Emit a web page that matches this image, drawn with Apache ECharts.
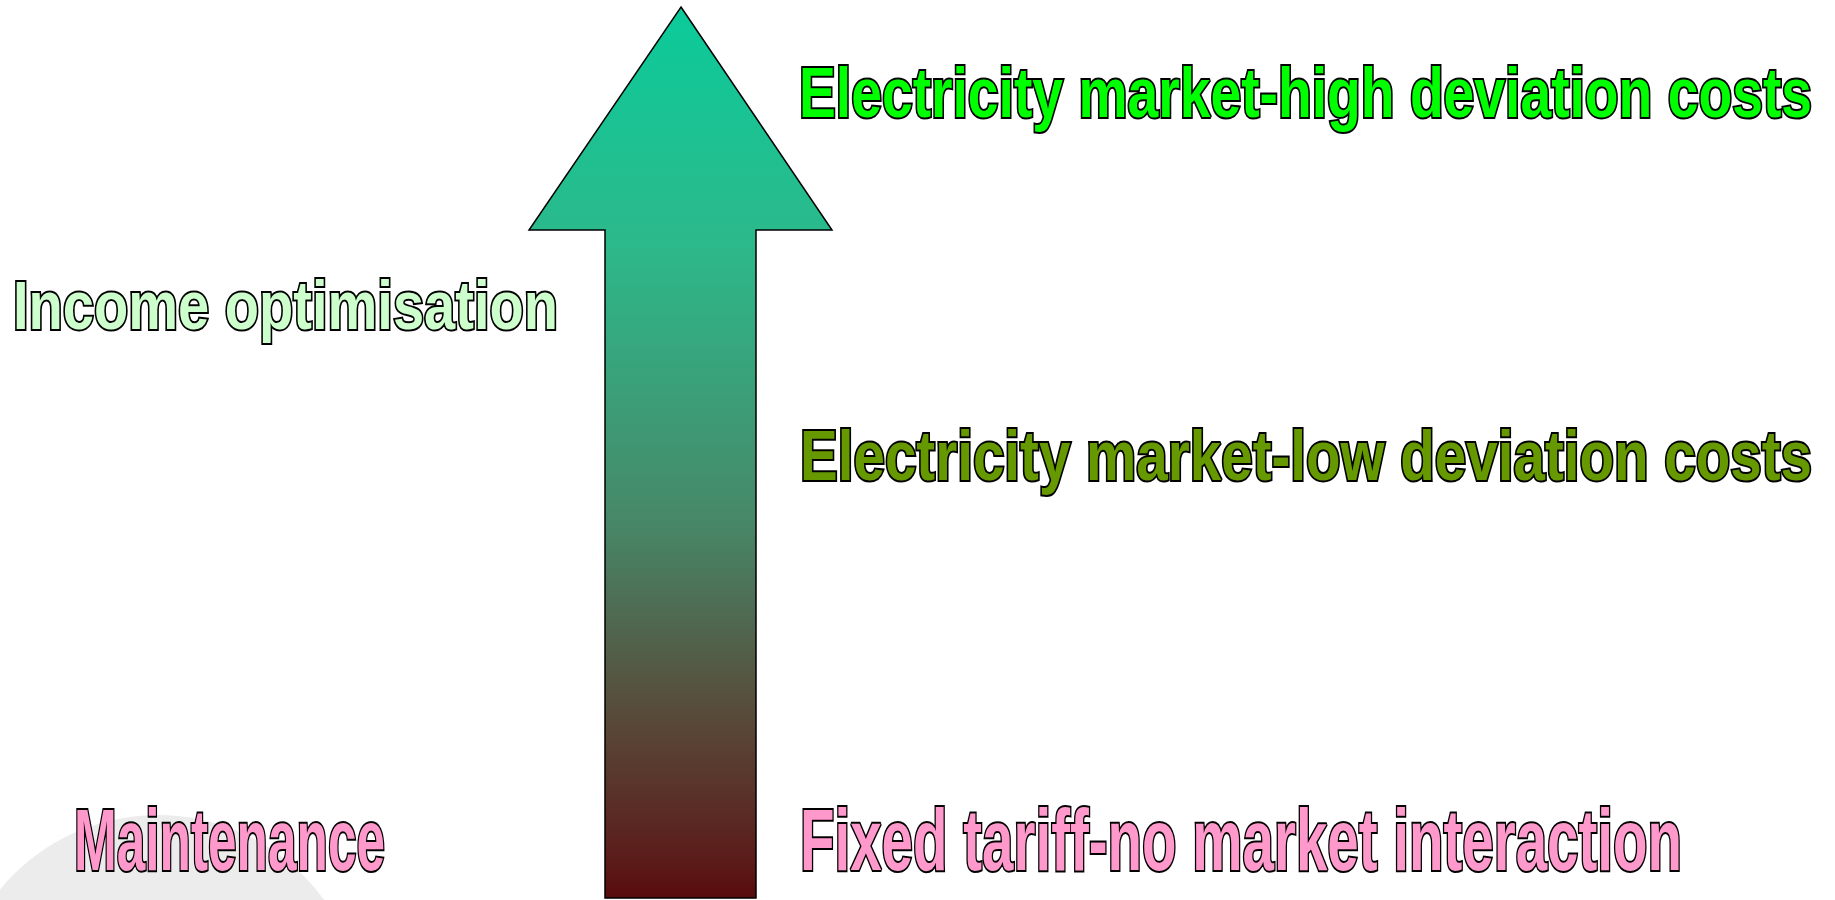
<!DOCTYPE html>
<html>
<head>
<meta charset="utf-8">
<script src="https://cdn.jsdelivr.net/npm/echarts@6/dist/echarts.min.js"></script>
<style>
html,body{margin:0;padding:0;background:#fff;}
#chart{width:1835px;height:900px;}
</style>
</head>
<body>
<div id="chart"></div>
<script>
// ---- content ----
const levelLabels = [
  'Fixed tariff-no market interaction',
  'Electricity market-low deviation costs',
  'Electricity market-high deviation costs'
];
const sideLabels = ['Maintenance', 'Income optimisation'];
const levelColors = ['#FF99CC', '#669900', '#00FF00'];
const sideColors = ['#FF99CC', '#CCFFCC'];

// ---- layout (canvas-like data coordinates, y downward) ----
const levelPos = [[800, 846], [800, 461], [799, 98]];
const levelWidth = [885, 1015, 1016];
const levelFont = [88, 70, 70];
const sidePos = [[74, 846], [13, 310]];
const sideWidth = [314, 548];
const sideFont = [88, 69];

const arrowTip = [681, 7];
const arrowHeadY = 230, arrowHeadX = [529, 832];
const arrowShaftX = [605, 756], arrowBottom = 898;

const FAMILY = '"Liberation Sans", Arial, sans-serif';
const mctx = document.createElement('canvas').getContext('2d');
function measure(text, size) {
  mctx.font = 'bold ' + size + 'px ' + FAMILY;
  return mctx.measureText(text).width;
}

const labelItems = [];
levelLabels.forEach((t, i) => labelItems.push({
  value: levelPos[i], text: t, color: levelColors[i], size: levelFont[i], width: levelWidth[i]
}));
sideLabels.forEach((t, i) => labelItems.push({
  value: sidePos[i], text: t, color: sideColors[i], size: sideFont[i], width: sideWidth[i]
}));

const chart = echarts.init(document.getElementById('chart'), null, {renderer: 'canvas'});
chart.setOption({
  animation: false,
  backgroundColor: '#ffffff',
  grid: {left: 0, right: 0, top: 0, bottom: 0},
  xAxis: {type: 'value', min: 0, max: 1835, show: false},
  yAxis: {type: 'value', min: 0, max: 900, inverse: true, show: false},
  series: [
    {
      type: 'custom', silent: true, clip: false,
      data: [[158, 1020, 205]],
      renderItem: function (params, api) {
        const c = api.coord([api.value(0), api.value(1)]);
        const r = api.size([api.value(2), 0])[0];
        return {type: 'circle', shape: {cx: c[0], cy: c[1], r: r}, style: {fill: '#ECECEC'}};
      }
    },
    {
      type: 'custom', silent: true, clip: false,
      data: [[0]],
      renderItem: function (params, api) {
        const pts = [
          arrowTip,
          [arrowHeadX[1], arrowHeadY],
          [arrowShaftX[1], arrowHeadY],
          [arrowShaftX[1], arrowBottom],
          [arrowShaftX[0], arrowBottom],
          [arrowShaftX[0], arrowHeadY],
          [arrowHeadX[0], arrowHeadY]
        ].map(p => api.coord(p));
        return {
          type: 'polygon',
          shape: {points: pts},
          style: {
            fill: new echarts.graphic.LinearGradient(0, 0, 0, 1, [
              {offset: 0, color: '#0BCB9A'},
              {offset: 0.273, color: '#2DB88A'},
              {offset: 0.576, color: '#478868'},
              {offset: 0.8, color: '#584938'},
              {offset: 0.957, color: '#5B1C1A'},
              {offset: 1, color: '#580A0C'}
            ]),
            stroke: '#000',
            lineWidth: 1.5
          }
        };
      }
    },
    {
      type: 'custom', silent: true, clip: false,
      data: labelItems.map(d => d.value),
      renderItem: function (params, api) {
        const d = labelItems[params.dataIndex];
        const p = api.coord([api.value(0), api.value(1)]);
        const w = measure(d.text, d.size);
        return {
          type: 'text',
          x: p[0], y: p[1],
          scaleX: (d.width - 3) / w,
          style: {
            text: d.text,
            x: 0, y: 0,
            fontFamily: FAMILY,
            fontWeight: 'bold',
            fontSize: d.size,
            fill: d.color,
            stroke: '#000',
            lineWidth: 4,
            strokeFirst: true,
            align: 'left',
            verticalAlign: 'middle'
          }
        };
      }
    }
  ]
});
</script>
</body>
</html>
